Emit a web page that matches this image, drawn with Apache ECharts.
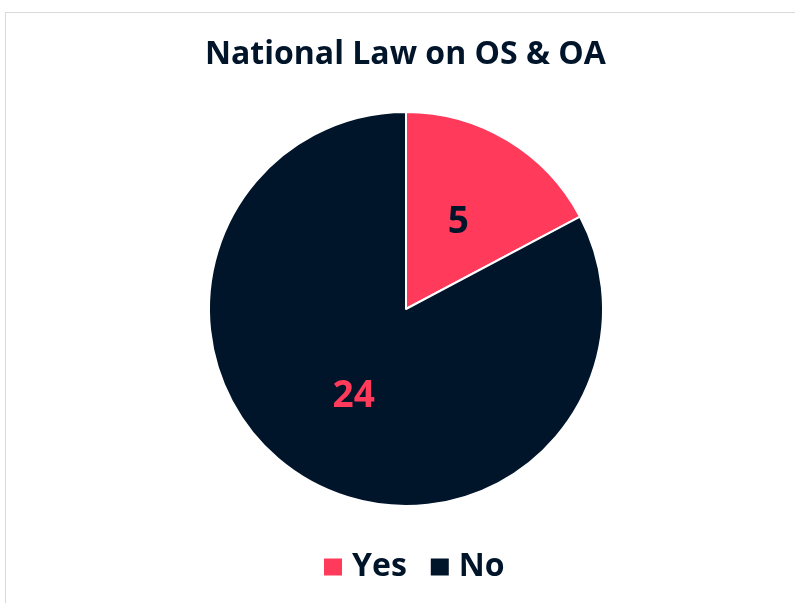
<!DOCTYPE html>
<html>
<head>
<meta charset="utf-8">
<script src="https://cdn.jsdelivr.net/npm/echarts@6/dist/echarts.min.js"></script>
<style>
  html, body { margin: 0; padding: 0; background: #fff; }
  #frame { position: absolute; left: 5px; top: 12px; width: 800px; height: 600px;
           border-top: 1px solid #d9d9d9; border-left: 1px solid #d9d9d9; }
  #chart { position: absolute; left: 0; top: 0; width: 795px; height: 603px; }
</style>
</head>
<body>
<div id="frame"></div>
<div id="chart"></div>
<script>
  const categories = ['Yes', 'No'];
  const values = [5, 24];
  const colors = ['#ff3a5a', '#00142a'];
  const labelColors = ['#00142a', '#ff3a5a'];

  const myChart = echarts.init(document.getElementById('chart'));
  let pieData = [];
  for (let i = 0; i < categories.length; i++) {
    pieData.push({
      name: categories[i],
      value: values[i],
      itemStyle: { color: colors[i] },
      label: { color: labelColors[i] }
    });
  }

  let option = {
    animation: false,
    title: {
      text: 'National Law on OS & OA',
      left: 200,
      top: 34,
      textStyle: {
        fontFamily: 'Open Sans',
        fontWeight: 'bold',
        fontSize: 32,
        color: '#00142a'
      }
    },
    legend: {
      data: categories,
      top: 546,
      left: 317,
      icon: 'rect',
      itemWidth: 20,
      itemHeight: 19,
      itemGap: 22,
      textStyle: {
        fontFamily: 'Open Sans',
        fontWeight: 'bold',
        fontSize: 32,
        color: '#00142a',
        padding: [0, 0, 0, 4]
      }
    },
    series: [
      {
        type: 'pie',
        center: [406, 309],
        radius: 197,
        startAngle: 90,
        clockwise: true,
        itemStyle: { borderColor: '#fff', borderWidth: 2 },
        label: {
          show: true,
          position: 'inside',
          formatter: '{c}',
          fontFamily: 'Open Sans',
          fontWeight: 'bold',
          fontSize: 37
        },
        labelLine: { show: false },
        emphasis: { disabled: true },
        data: pieData
      }
    ]
  };

  myChart.setOption(option);
  window.addEventListener('resize', function () {
    myChart.resize();
  });
</script>
</body>
</html>
